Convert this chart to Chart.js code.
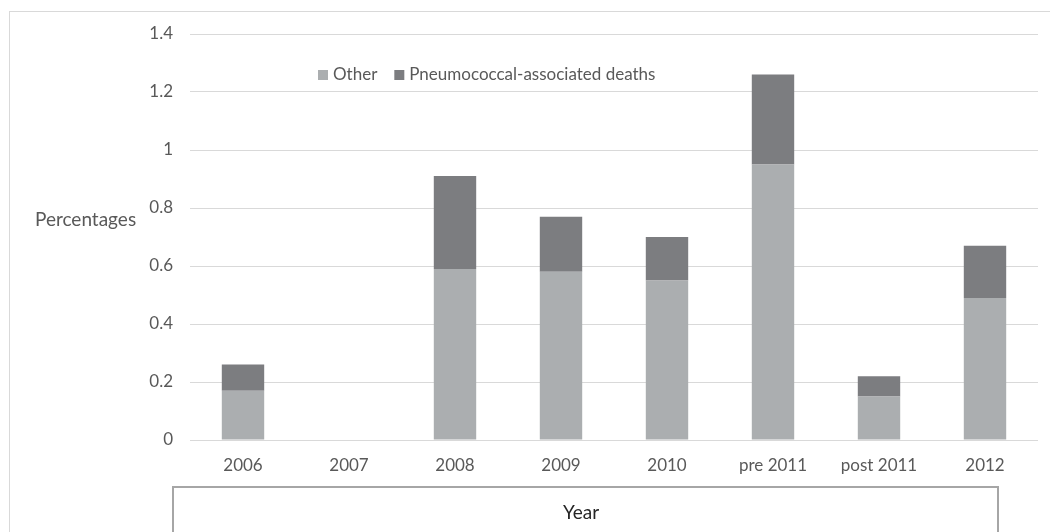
<!DOCTYPE html>
<html>
<head>
<meta charset="utf-8">
<script src="https://cdn.jsdelivr.net/npm/chart.js@4/dist/chart.umd.min.js"></script>
<style>
  html, body { margin: 0; padding: 0; background: #fff; }
  #wrap { width: 1050px; height: 532px; position: relative; }
</style>
</head>
<body>
<div id="wrap"><canvas id="c" width="1050" height="532"></canvas></div>
<script>
// Categories along the x axis
const categories = ['2006', '2007', '2008', '2009', '2010', 'pre 2011', 'post 2011', '2012'];
// Stacked series (percentages)
const otherValues = [0.17, 0, 0.59, 0.58, 0.55, 0.95, 0.15, 0.49];
const pneumoValues = [0.09, 0, 0.32, 0.19, 0.15, 0.31, 0.07, 0.18];
// Y tick labels
const yTickLabels = ['0', '0.2', '0.4', '0.6', '0.8', '1', '1.2', '1.4'];
const seriesNames = ['Other', 'Pneumococcal-associated deaths'];
const xTitle = 'Year';
const yTitle = 'Percentages';

const FONT = 'Lato, "Open Sans", "Liberation Sans", sans-serif';
const TEXT = '#595959';

// Frame, axis titles, boxed x title and the in-plot legend
const decorations = {
  id: 'decorations',
  beforeDraw(chart) {
    const ctx = chart.ctx;
    ctx.save();
    ctx.fillStyle = '#fff';
    ctx.fillRect(0, 0, chart.width, chart.height);
    ctx.strokeStyle = '#d9d9d9';
    ctx.lineWidth = 1;
    ctx.strokeRect(9.5, 11.5, 1100, 600);
    ctx.restore();
  },
  afterDraw(chart) {
    const ctx = chart.ctx;
    ctx.save();
    // y title, horizontal, left of the axis
    ctx.font = '19px ' + FONT;
    ctx.fillStyle = TEXT;
    ctx.textBaseline = 'middle';
    ctx.textAlign = 'left';
    ctx.fillText(yTitle, 35, 220);

    // boxed x title
    ctx.strokeStyle = '#a6a6a6';
    ctx.lineWidth = 2;
    ctx.beginPath();
    ctx.moveTo(173, 540);
    ctx.lineTo(173, 487);
    ctx.lineTo(998, 487);
    ctx.lineTo(998, 540);
    ctx.stroke();
    ctx.fillStyle = '#262626';
    ctx.textAlign = 'center';
    ctx.font = '19px ' + FONT;
    ctx.fillText(xTitle, 581, 513);

    // legend
    ctx.font = '17px ' + FONT;
    ctx.textAlign = 'left';
    let x = 318;
    const y = 75;
    chart.data.datasets.forEach((ds) => {
      ctx.fillStyle = ds.backgroundColor;
      ctx.fillRect(x, y - 5, 10, 10);
      ctx.fillStyle = TEXT;
      ctx.fillText(ds.label, x + 15, y);
      x += 15 + ctx.measureText(ds.label).width + 17;
    });
    ctx.restore();
  }
};

new Chart(document.getElementById('c'), {
  type: 'bar',
  data: {
    labels: categories,
    datasets: [
      { label: seriesNames[0], data: otherValues, backgroundColor: '#abaeb0' },
      { label: seriesNames[1], data: pneumoValues, backgroundColor: '#7c7d80' }
    ]
  },
  options: {
    responsive: false,
    animation: false,
    devicePixelRatio: 1,
    layout: { padding: { top: 34, right: 12, left: 0, bottom: 0 } },
    datasets: { bar: { categoryPercentage: 1, barPercentage: 0.4 } },
    plugins: { legend: { display: false }, tooltip: { enabled: false } },
    scales: {
      x: {
        stacked: true,
        grid: { display: false, drawTicks: false },
        border: { display: false },
        ticks: { color: TEXT, font: { family: FONT, size: 17 }, padding: 15, maxRotation: 0 },
        afterFit(scale) { scale.height = 92; }
      },
      y: {
        stacked: true,
        min: 0,
        max: 1.4,
        ticks: {
          stepSize: 0.2,
          color: TEXT,
          font: { family: FONT, size: 17 },
          padding: 17,
          callback: (v, i) => yTickLabels[i]
        },
        grid: { color: '#d9d9d9', lineWidth: 1, drawTicks: false },
        border: { display: false },
        afterFit(scale) { scale.width = 190; }
      }
    }
  },
  plugins: [decorations]
});
</script>
</body>
</html>
